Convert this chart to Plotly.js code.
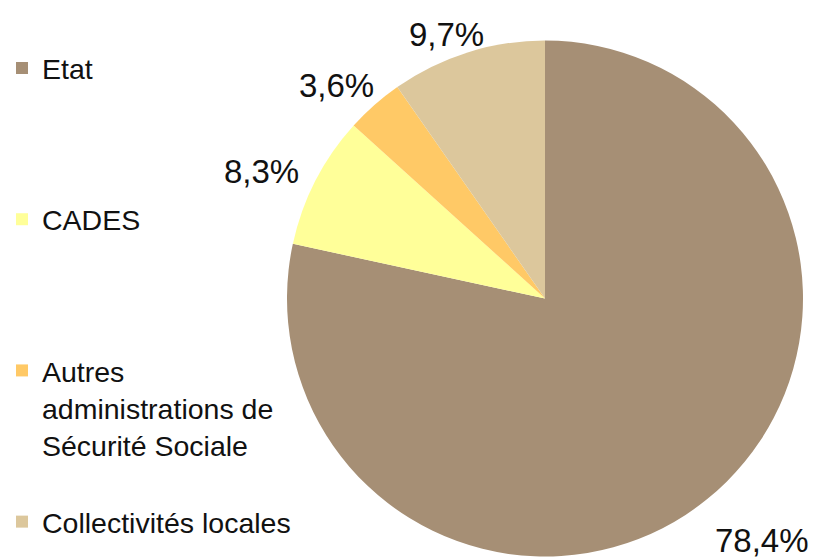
<!DOCTYPE html>
<html>
<head>
<meta charset="utf-8">
<script src="https://cdn.plot.ly/plotly-3.0.1.min.js"></script>
<style>html,body{margin:0;padding:0;background:#fff;}#chart{width:825px;height:559px;}</style>
</head>
<body>
<div id="chart"></div>
<script>
var categories = ["Etat", "CADES", "Autres<br>administrations de<br>Sécurité Sociale", "Collectivités locales"];
var shares = [78.4, 8.3, 3.6, 9.7];
var colors = ["#A68F75", "#FFFF99", "#FFC966", "#DCC79C"];

var W = 825, H = 559;
var FONT = "Liberation Sans, Arial, sans-serif";
var LEGEND_SIZE = 28.5, LABEL_SIZE = 33;

// pad legend entries (except the last) to 4 lines so items are evenly spaced
var legendLabels = categories.map(function (c, k) {
  if (k === categories.length - 1) return c;
  var n = c.split("<br>").length;
  var s = c;
  for (var i = n; i < 4; i++) s += "<br> ";
  return s;
});

// pie domain (pixels)
var dom = { x0: 287, x1: 803, y0: 40, y1: 557 };
var cx = (dom.x0 + dom.x1) / 2, cy = (dom.y0 + dom.y1) / 2;
var R = Math.min(dom.x1 - dom.x0, dom.y1 - dom.y0) / 2;

var trace = {
  type: "pie",
  labels: legendLabels,
  values: shares,
  sort: false,
  direction: "clockwise",
  rotation: 0,
  marker: { colors: colors, line: { width: 0 } },
  textinfo: "none",
  hoverinfo: "none",
  domain: { x: [dom.x0 / W, dom.x1 / W], y: [1 - dom.y1 / H, 1 - dom.y0 / H] }
};

// percentage labels outside each slice, placed from the slice mid-angles
var ctx = document.createElement("canvas").getContext("2d");
ctx.font = LABEL_SIZE + "px " + FONT;
var total = shares.reduce(function (a, b) { return a + b; }, 0);
var cum = 0;
var annotations = shares.map(function (v) {
  var mid = (cum + v / 2) / total * 2 * Math.PI - 3 * Math.PI / 180;
  cum += v;
  var txt = (v / total * 100).toFixed(1).replace(".", ",") + "%";
  var w = ctx.measureText(txt).width;
  var s = Math.sin(mid), c = -Math.cos(mid);
  var d = R + Math.abs(s) * w / 2 + 25 + 15 * c;
  var px = cx + d * s, py = cy + d * c;
  return {
    xref: "paper", yref: "paper",
    x: px / W, y: 1 - py / H,
    xanchor: "center", yanchor: "middle",
    text: txt, showarrow: false,
    font: { family: FONT, size: LABEL_SIZE, color: "#111111" }
  };
});

var layout = {
  width: W,
  height: H,
  margin: { l: 0, r: 0, t: 0, b: 0 },
  paper_bgcolor: "#ffffff",
  font: { family: FONT, size: LEGEND_SIZE, color: "#111111" },
  showlegend: true,
  legend: {
    x: 2 / W, xanchor: "left",
    y: 1 - 43 / H, yanchor: "top",
    valign: "top",
    font: { family: FONT, size: LEGEND_SIZE, color: "#111111" },
    bgcolor: "rgba(0,0,0,0)"
  },
  annotations: annotations
};

Plotly.newPlot("chart", [trace], layout, { staticPlot: true });
</script>
</body>
</html>
